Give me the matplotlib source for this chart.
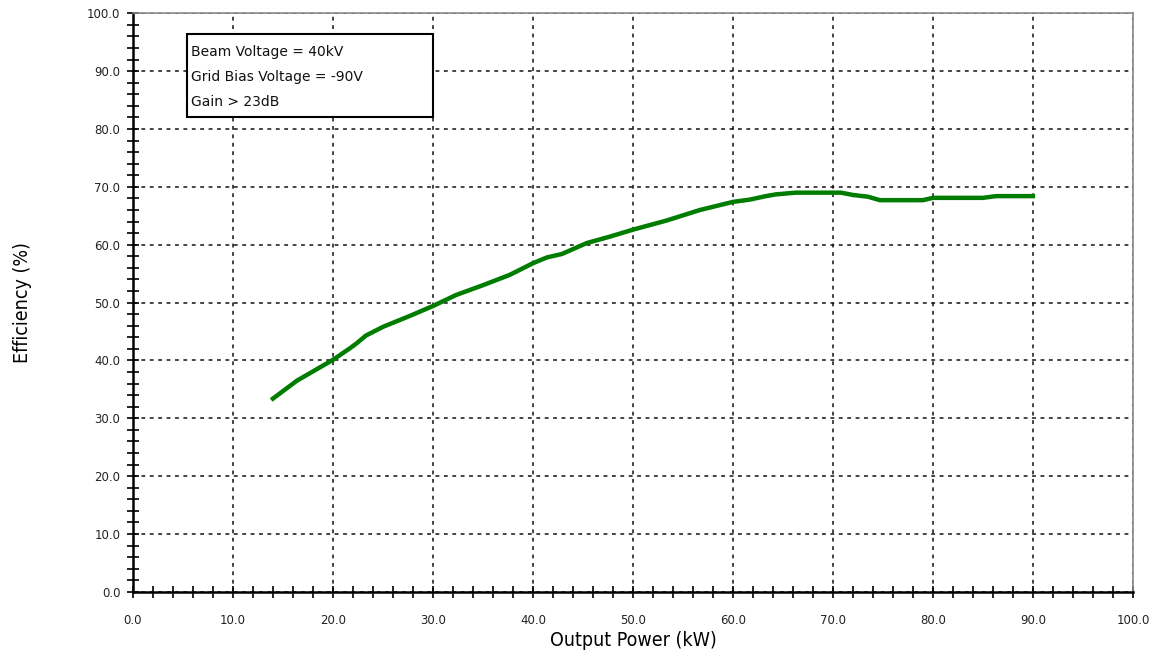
import numpy as np
import matplotlib
matplotlib.use('Agg')
import matplotlib.pyplot as plt
from matplotlib.ticker import MultipleLocator, FormatStrFormatter

# efficiency curve
power_kw = [14.0, 16.4, 20.0, 21.7, 22.4, 23.3, 25.0, 27.7, 30.0, 32.3, 35.0, 37.7,
            40.0, 41.4, 42.9, 45.4, 47.7, 50.0, 53.4, 56.7, 60.0, 61.7, 63.3, 64.3,
            66.3, 70.8, 72.0, 73.5, 74.7, 79.0, 80.0, 85.0, 86.3, 90.0]
efficiency = [33.4, 36.5, 40.1, 42.1, 43.0, 44.3, 45.8, 47.7, 49.4, 51.3, 53.0, 54.8,
              56.8, 57.8, 58.4, 60.3, 61.4, 62.6, 64.2, 66.0, 67.4, 67.8, 68.4, 68.7,
              69.0, 69.0, 68.6, 68.3, 67.7, 67.7, 68.1, 68.1, 68.4, 68.4]

notes = ['Beam Voltage = 40kV', 'Grid Bias Voltage = -90V', 'Gain > 23dB']

fig = plt.figure(figsize=(11.56, 6.65), dpi=100)
ax = fig.add_axes([0.115, 0.110, 0.865, 0.870])

ax.plot(power_kw, efficiency, color='#007d00', lw=3.2, solid_joinstyle='round', zorder=3)

ax.set_xlim(0, 100)
ax.set_ylim(0, 100)
ax.xaxis.set_major_locator(MultipleLocator(10))
ax.xaxis.set_minor_locator(MultipleLocator(2))
ax.yaxis.set_major_locator(MultipleLocator(10))
ax.yaxis.set_minor_locator(MultipleLocator(2))
ax.xaxis.set_major_formatter(FormatStrFormatter('%.1f'))
ax.yaxis.set_major_formatter(FormatStrFormatter('%.1f'))

ax.tick_params(which='both', direction='inout', color='black', width=1.2,
               length=8, labelsize=8.5, labelcolor='#222222', top=False, right=False)
ax.tick_params(axis='x', pad=12)
ax.tick_params(axis='y', pad=5)

ax.grid(True, which='major', color='#111111', linestyle=(0, (2.5, 3)), lw=1.1)

ax.spines['left'].set_linewidth(1.8)
ax.spines['bottom'].set_linewidth(1.8)
for s in ('top', 'right'):
    ax.spines[s].set_color('#888888')
    ax.spines[s].set_linewidth(1.2)

ax.set_xlabel('Output Power (kW)', fontsize=14, fontstretch='condensed', labelpad=3)
ax.set_ylabel('Efficiency (%)', fontsize=14, fontstretch='condensed', labelpad=40)

# annotation box
ax.add_patch(plt.Rectangle((5.4, 82.0), 24.6, 14.4, facecolor='white',
                           edgecolor='black', lw=1.5, zorder=4))
for i, t in enumerate(notes):
    ax.text(5.8, 93.3 - i * 4.35, t, fontsize=10, va='center', ha='left',
            color='#111111', zorder=5)

fig.savefig('out.png', dpi=100)
